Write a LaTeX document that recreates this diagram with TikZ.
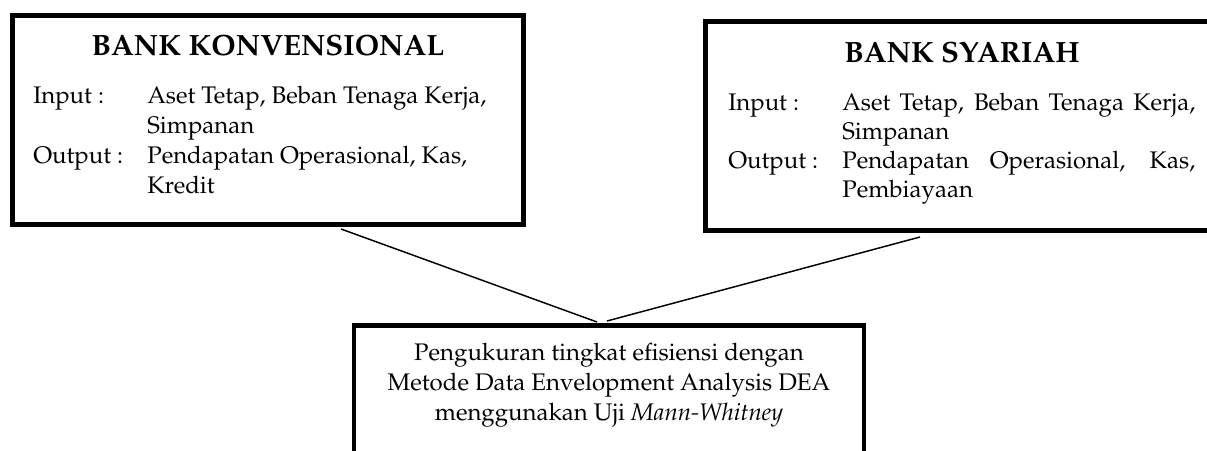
\documentclass[tikz,border=0pt]{standalone}
\usepackage[T1]{fontenc}
\usepackage{mathpazo}
\newcommand\bodyfnt{\fontsize{18}{22}\selectfont}
\newcommand\titlefnt{\fontsize{22}{26}\selectfont\bfseries}
\tikzset{
  box/.style={draw, line width=3.6pt, inner sep=0pt},
  txt/.style={anchor=base west, inner sep=0pt, font=\bodyfnt},
  ctxt/.style={anchor=base, inner sep=0pt, font=\bodyfnt},
  ttl/.style={anchor=base, inner sep=0pt, font=\titlefnt},
  conn/.style={line width=1.1pt}
}
\begin{document}
\begin{tikzpicture}[x=0.75pt,y=-0.75pt]
\useasboundingbox (0,0) rectangle (1207,450);
\clip (0,0) rectangle (1207,450);
% boxes
\node[box, minimum width=383.25pt, minimum height=156.75pt] (kon) at (268,120) {};
\node[box, minimum width=384.75pt, minimum height=156.75pt] (sya) at (962,126) {};
\node[box, minimum width=382.5pt, minimum height=108.4pt] (dea) at (609,397.75) {};
% left box text
\node[ttl] (kt) at (268,55) {BANK KONVENSIONAL};
\node[txt] (ki) at (33,103) {Input :};
\node[txt] (ki1) at (147,103) {Aset Tetap, Beban Tenaga Kerja,};
\node[txt] (ki2) at (147,133) {Simpanan};
\node[txt] (ko) at (33,163) {Output :};
\node[txt] (ko1) at (147,163) {Pendapatan Operasional, Kas,};
\node[txt] (ko2) at (147,193) {Kredit};
% right box text
\node[ttl] (st) at (962,62) {BANK SYARIAH};
\node[txt] (si) at (728,110) {Input :};
\node[txt] (si1) at (842,110) {\makebox[264.75pt][s]{Aset Tetap, Beban Tenaga Kerja,}};
\node[txt] (si2) at (842,139) {Simpanan};
\node[txt] (so) at (728,168) {Output :};
\node[txt] (so1) at (842,168) {\makebox[264.75pt][s]{Pendapatan Operasional, Kas,}};
\node[txt] (so2) at (842,197) {Pembiayaan};
% bottom box text
\node[ctxt] (d1) at (609,360) {Pengukuran tingkat efisiensi dengan};
\node[ctxt] (d2) at (609,390) {Metode Data Envelopment Analysis DEA};
\node[ctxt] (d3) at (609,420) {menggunakan Uji \textit{Mann-Whitney}};
% connectors
\coordinate (c1) at (341,229);
\coordinate (c2) at (597,322);
\coordinate (c3) at (920,237);
\coordinate (c4) at (607,321);
\draw[conn] (c1) -- (c2);
\draw[conn] (c3) -- (c4);
\end{tikzpicture}
\end{document}
